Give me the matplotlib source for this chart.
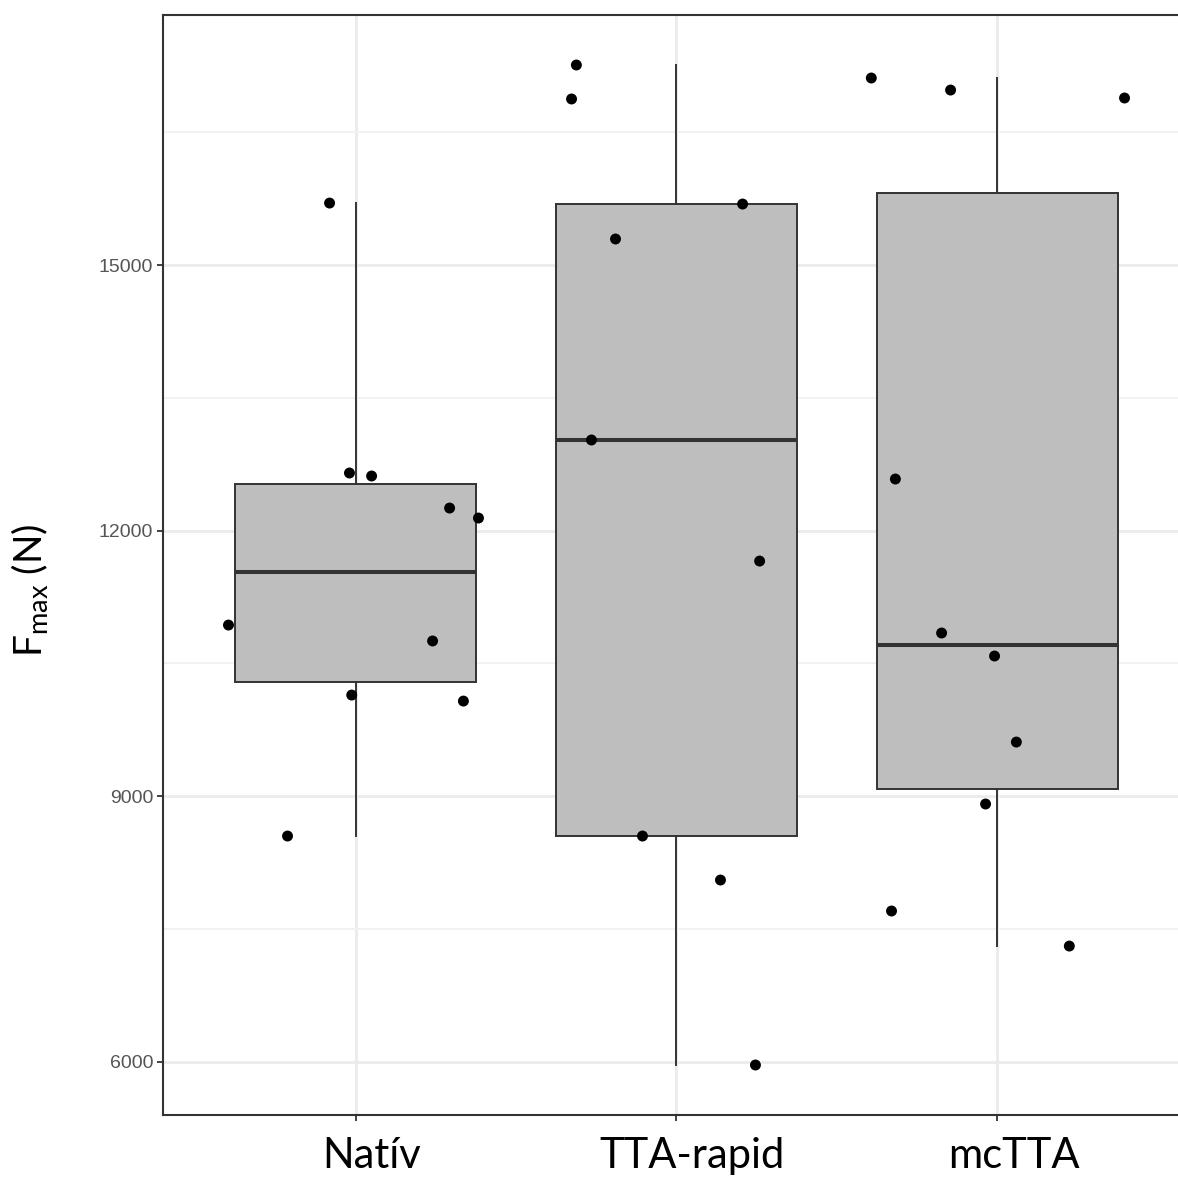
import matplotlib
matplotlib.use("Agg")
import matplotlib.pyplot as plt
from matplotlib.transforms import ScaledTranslation
from matplotlib.ticker import FixedLocator
import numpy as np

categories = ["Natív", "TTA-rapid", "mcTTA"]

nativ_vals = [10932, 8548, 15700, 12650, 10141, 12616, 10752, 12254, 10073, 12141]
nativ_jit = [-0.396, -0.212, -0.081, -0.019, -0.012, 0.050, 0.240, 0.293, 0.336, 0.383]

tta_vals = [16876, 17260, 13023, 15294, 8548, 8051, 15689, 5961, 11655]
tta_jit = [-0.327, -0.312, -0.265, -0.190, -0.106, 0.137, 0.206, 0.246, 0.259]

mctta_vals = [17113, 16977, 16887, 12582, 10842, 10582, 9610, 8910, 7701, 7305]
mctta_jit = [-0.393, -0.146, 0.396, -0.318, -0.174, -0.009, 0.059, -0.037, -0.330, 0.224]

y_major = [6000, 9000, 12000, 15000]
y_minor = [7500, 10500, 13500, 16500]

groups = [nativ_vals, tta_vals, mctta_vals]
jits = [nativ_jit, tta_jit, mctta_jit]

W, H = 1178, 1180
fig = plt.figure(figsize=(W / 100, H / 100), dpi=100)
left, right, top, bottom = 163, 1190, 15, 1115
ax = fig.add_axes([left / W, 1 - bottom / H, (right - left) / W, (bottom - top) / H])

positions = [1, 2, 3]
dark = "#333333"
bp = ax.boxplot(groups, positions=positions, widths=0.75, patch_artist=True,
                showfliers=False, showcaps=False, whis=1.5,
                boxprops=dict(facecolor="#BEBEBE", edgecolor=dark, linewidth=1.4),
                whiskerprops=dict(color=dark, linewidth=1.4),
                medianprops=dict(color=dark, linewidth=2.9, solid_capstyle="butt"),
                zorder=2)

for pos, vals, jit in zip(positions, groups, jits):
    ax.scatter(np.array(jit) + pos, vals, s=62, color="black", edgecolors="none", zorder=3)

allv = np.concatenate([np.array(g) for g in groups])
rng = allv.max() - allv.min()
ax.set_ylim(allv.min() - 0.05 * rng, allv.max() + 0.05 * rng)
ax.set_xlim(0.4, 3.6)

ax.yaxis.set_major_locator(FixedLocator(y_major))
ax.yaxis.set_minor_locator(FixedLocator(y_minor))
ax.set_yticks(y_major)
ax.set_yticklabels([str(v) for v in y_major])
ax.set_xticks(positions)
ax.set_xticklabels(categories)

ax.set_axisbelow(True)
ax.grid(True, which="major", color="#EBEBEB", linewidth=2.0)
ax.grid(True, which="minor", axis="y", color="#F2F2F2", linewidth=1.4)
ax.tick_params(axis="y", which="minor", length=0)
ax.tick_params(axis="y", which="major", length=4, width=1.3, color=dark,
               labelsize=14, labelcolor="#555555", pad=3)
ax.tick_params(axis="x", which="major", length=4, width=1.3, color=dark,
               labelsize=30, labelcolor="black", pad=12)
for lab in ax.get_yticklabels():
    lab.set_fontfamily("Liberation Sans")
for lab in ax.get_xticklabels():
    lab.set_fontfamily("Lato")
    lab.set_transform(lab.get_transform() + ScaledTranslation(0.16, 0, fig.dpi_scale_trans))

for sp in ax.spines.values():
    sp.set_color(dark)
    sp.set_linewidth(1.5)

plt.rcParams["mathtext.fontset"] = "custom"
plt.rcParams["mathtext.rm"] = "Lato"
fig.text(30 / W, 1 - 590 / H, r"F$_{\mathrm{max}}$ (N)", rotation=90, ha="center", va="center",
         fontsize=28, family="Lato", color="black")

fig.savefig("out.png", dpi=100)
